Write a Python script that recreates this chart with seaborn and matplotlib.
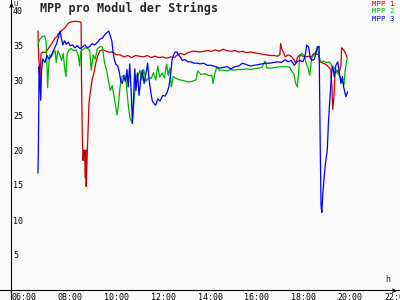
import matplotlib
matplotlib.use("Agg")
import matplotlib.pyplot as plt
from matplotlib.transforms import ScaledTranslation
import seaborn as sns
import pandas as pd

# ---- data (time in minutes since midnight, value in V) ----
mpp1_t = [419, 421, 424, 427, 432, 437, 442, 447, 452, 458, 463, 468, 471, 476, 483, 489, 494, 499,
          505, 515, 527, 530, 531, 533, 535, 537, 539, 541, 542, 543, 545, 546, 548, 550, 553, 558,
          563, 568, 573, 579, 585, 591, 600, 612, 620, 630, 640, 650, 660, 670, 680, 690, 700, 710,
          720, 730, 740, 750, 760, 770, 778, 786, 795, 805, 815, 825, 835, 845, 855, 865, 875, 885,
          895, 905, 915, 925, 935, 945, 955, 965, 975, 985, 995, 1005, 1015, 1025, 1035, 1041, 1043,
          1046, 1050, 1055, 1062, 1070, 1077, 1082, 1087, 1093, 1100, 1108, 1116, 1122, 1128, 1135,
          1141, 1144, 1152, 1160, 1167, 1172, 1175, 1177, 1180, 1183, 1188, 1193, 1198, 1200, 1205,
          1209, 1214]
mpp1_v = [37.0, 33.5, 30.0, 33.8, 34.0, 33.9, 34.2, 34.6, 35.0, 35.5, 36.0, 36.2, 36.6, 36.8, 37.2,
          37.5, 37.9, 38.2, 38.3, 38.4, 38.3, 38.2, 30.0, 22.0, 18.5, 20.0, 19.5, 16.0, 20.0, 14.8,
          18.0, 20.0, 23.0, 26.5, 28.0, 30.0, 31.0, 32.5, 33.5, 34.2, 34.3, 34.2, 34.0, 34.0, 33.6,
          33.6, 33.3, 33.5, 33.2, 33.5, 33.4, 33.3, 33.5, 33.2, 33.4, 33.2, 33.3, 33.1, 33.3, 33.2,
          33.6, 33.8, 33.6, 33.9, 34.1, 34.1, 34.0, 34.1, 34.2, 34.1, 34.3, 34.1, 34.4, 34.2, 34.1,
          34.2, 34.0, 34.1, 33.9, 34.0, 33.9, 33.8, 33.7, 33.6, 33.5, 33.5, 33.4, 33.6, 35.2, 34.4,
          34.0, 33.3, 33.6, 33.4, 32.9, 32.4, 33.3, 33.6, 33.4, 33.3, 33.4, 33.3, 33.8, 33.7, 33.6,
          32.6, 32.4, 32.2, 31.8, 31.5, 29.0, 25.8, 27.5, 31.0, 31.4, 31.0, 32.0, 34.6, 34.3, 33.9,
          33.2]

mpp2_t = [419, 421, 424, 430, 436, 440, 442, 444, 446, 449, 453, 458, 463, 466, 470, 475, 480, 484,
          488, 491, 494, 498, 504, 510, 517, 523, 526, 529, 534, 540, 547, 552, 556, 561, 566, 572,
          580, 585, 590, 595, 600, 605, 610, 615, 619, 622, 625, 630, 635, 640, 645, 648, 652, 656,
          661, 666, 671, 676, 681, 686, 691, 697, 704, 710, 716, 722, 727, 732, 738, 744, 750, 754,
          758, 762, 767, 775, 785, 795, 805, 815, 825, 830, 838, 848, 860, 866, 869, 874, 879, 885,
          895, 905, 915, 925, 935, 945, 955, 965, 975, 985, 995, 1003, 1008, 1020, 1030, 1040, 1050,
          1060, 1067, 1072, 1077, 1082, 1086, 1089, 1093, 1098, 1104, 1108, 1113, 1118, 1123, 1128,
          1133, 1137, 1141, 1146, 1152, 1160, 1167, 1172, 1177, 1183, 1188, 1193, 1198, 1203, 1206,
          1209, 1214]
mpp2_v = [34.8, 35.5, 35.8, 36.2, 36.3, 35.5, 32.0, 28.9, 31.5, 33.6, 33.3, 33.8, 34.2, 32.5, 34.2,
          33.6, 32.8, 33.8, 31.5, 30.5, 33.8, 34.2, 34.5, 34.2, 34.3, 33.5, 32.0, 34.0, 34.3, 34.6,
          34.5, 34.2, 31.4, 33.6, 33.0, 34.5, 34.8, 34.7, 32.5, 31.5, 30.0, 28.5, 29.2, 27.5, 26.2,
          25.0, 26.0, 29.0, 30.5, 30.7, 30.4, 28.3, 26.0, 24.5, 23.8, 27.0, 30.7, 30.5, 31.4, 30.0,
          31.5, 29.8, 30.4, 30.2, 31.0, 30.0, 32.0, 30.4, 31.0, 30.3, 32.3, 30.6, 31.7, 29.0, 30.5,
          30.2, 30.0, 29.9, 29.7, 29.8, 30.0, 31.3, 30.8, 30.9, 30.6, 30.7, 29.5, 31.0, 31.9, 31.4,
          31.4, 31.3, 31.5, 31.4, 31.5, 31.5, 31.6, 31.5, 31.6, 31.7, 31.8, 32.7, 31.7, 31.7, 31.8,
          31.9, 31.9, 31.9, 31.8, 31.2, 30.9, 29.5, 29.0, 31.0, 33.6, 33.8, 33.5, 32.5, 31.8, 30.7,
          33.2, 33.5, 34.0, 34.8, 33.5, 32.6, 32.7, 32.5, 32.6, 32.4, 31.5, 31.8, 31.0, 30.8, 30.2,
          29.6, 29.3, 31.4, 33.1]

mpp3_t = [419, 420, 421, 422, 424, 426, 428, 431, 437, 442, 447, 452, 457, 462, 467, 472, 476, 479,
          483, 487, 492, 497, 502, 508, 514, 520, 527, 533, 540, 546, 552, 558, 565, 572, 578, 585,
          591, 597, 601, 605, 609, 612, 615, 619, 624, 628, 632, 636, 640, 644, 648, 651, 655, 659,
          662, 665, 668, 671, 675, 679, 683, 687, 692, 697, 701, 705, 709, 713, 718, 722, 727, 733,
          740, 746, 751, 756, 760, 764, 768, 772, 776, 780, 785, 790, 797, 805, 812, 820, 828, 836,
          845, 855, 865, 875, 885, 895, 905, 915, 925, 935, 945, 955, 965, 975, 985, 995, 1005, 1015,
          1025, 1035, 1045, 1055, 1062, 1070, 1078, 1085, 1092, 1100, 1106, 1110, 1115, 1119, 1124,
          1130, 1136, 1140, 1142, 1145, 1147, 1149, 1151, 1154, 1158, 1163, 1166, 1170, 1174, 1177,
          1181, 1185, 1190, 1194, 1198, 1202, 1205, 1208, 1211, 1215]
mpp3_v = [16.7, 20.0, 26.0, 31.9, 30.0, 27.1, 31.0, 33.0, 32.5, 33.5, 33.0, 33.3, 34.0, 34.6, 35.2,
          36.2, 37.0, 36.0, 35.0, 35.6, 35.1, 35.4, 34.9, 35.0, 34.6, 34.9, 34.5, 34.7, 35.0, 34.6,
          34.8, 35.2, 35.0, 35.4, 35.8, 36.0, 36.5, 36.8, 37.0, 36.3, 35.6, 34.0, 33.0, 32.3, 32.0,
          31.2, 29.8, 29.5, 30.5, 29.8, 31.5, 29.0, 32.3, 28.0, 23.8, 27.5, 31.6, 28.5, 31.0, 27.8,
          30.0, 31.4, 29.5, 31.0, 32.4, 30.0, 28.3, 27.0, 26.6, 26.4, 27.3, 27.0, 27.8, 27.7, 28.2,
          29.1, 30.7, 33.0, 33.6, 34.0, 34.0, 33.6, 33.3, 32.8, 32.9, 32.6, 32.6, 32.4, 32.4, 32.3,
          32.4, 32.1, 32.1, 31.9, 31.7, 31.8, 31.9, 31.6, 31.9, 32.0, 32.4, 32.2, 32.0, 32.1, 32.2,
          32.3, 32.4, 32.4, 32.5, 32.6, 32.5, 32.9, 32.6, 32.8, 32.1, 32.6, 32.8, 32.6, 33.4, 35.0,
          34.7, 33.2, 32.8, 33.0, 34.3, 34.8, 34.8, 20.0, 12.0, 11.1, 13.3, 15.5, 18.0, 20.0, 24.0,
          27.6, 31.0, 32.0, 30.5, 32.1, 32.6, 31.0, 29.5, 30.5, 29.0, 28.3, 27.6, 28.3]

series_names = ["MPP 1", "MPP 2", "MPP 3"]
series_colors = ["#c80000", "#00b400", "#0000ff"]

x_tick_minutes = [360, 480, 600, 720, 840, 960, 1080, 1200, 1320]
x_tick_labels = ["06:00", "08:00", "10:00", "12:00", "14:00", "16:00", "18:00", "20:00", "22:00"]
y_ticks = [5, 10, 15, 20, 25, 30, 35, 40]

title = "MPP pro Modul der Strings"

# ---- build long-form table ----
frames = []
for name, t, v in zip(series_names, [mpp1_t, mpp2_t, mpp3_t], [mpp1_v, mpp2_v, mpp3_v]):
    frames.append(pd.DataFrame({"minute": t, "value": v, "series": name}))
df = pd.concat(frames, ignore_index=True)

sns.set_style("white")
plt.rcParams["font.family"] = ["DejaVu Sans Mono", "DejaVu Sans"]

BG = "#fafafa"
fig = plt.figure(figsize=(4, 3), dpi=100, facecolor=BG)
ax = fig.add_axes([0, 0, 1, 1], facecolor=BG)

sns.lineplot(data=df, x="minute", y="value", hue="series", hue_order=series_names,
             palette=dict(zip(series_names, series_colors)), estimator=None, sort=False,
             legend=False, linewidth=0.9, ax=ax)

# pixel mapping: 06:00 at x=15px, 2.571 min/px ; value 0 at y=290px, 7 px/V
ax.set_xlim(321.4, 1350)
ax.set_ylim(-10 / 7, 290 / 7)
ax.set_xlabel("")
ax.set_ylabel("")

for s in ["top", "right"]:
    ax.spines[s].set_visible(False)
ax.spines["left"].set_position(("data", 349.7))
ax.spines["bottom"].set_position(("data", 0))
for s in ["left", "bottom"]:
    ax.spines[s].set_color("black")
    ax.spines[s].set_linewidth(0.8)

ax.set_xticks(x_tick_minutes)
ax.set_xticklabels(x_tick_labels)
ax.set_yticks(y_ticks)
ax.set_yticklabels([str(v) for v in y_ticks])

ax.tick_params(axis="x", direction="inout", length=3.6, width=0.8, labelsize=6, pad=0, colors="black")
ax.tick_params(axis="y", direction="inout", length=4.3, width=0.8, labelsize=6, pad=-3.6, colors="black")

shift_x = ScaledTranslation(-4 / 100, 0, fig.dpi_scale_trans)
for lab in ax.get_xticklabels():
    lab.set_horizontalalignment("left")
    lab.set_transform(lab.get_transform() + shift_x)
for lab in ax.get_yticklabels():
    lab.set_horizontalalignment("left")

# axis arrows and unit labels
ax.annotate("", xy=(11.5, 300), xytext=(11.5, 290), xycoords="figure pixels",
            arrowprops=dict(arrowstyle="->", lw=0.8, color="black", mutation_scale=6))
ax.annotate("", xy=(400, 9.3), xytext=(390, 9.3), xycoords="figure pixels",
            arrowprops=dict(arrowstyle="->", lw=0.8, color="black", mutation_scale=6))
fig.text(13 / 400, 1 - 0.5 / 300, "U", fontsize=5, va="top", ha="left")
fig.text(385 / 400, 1 - 284 / 300, "h", fontsize=6, va="bottom", ha="left")

# title and legend texts
fig.text(40 / 400, 1 - 2 / 300, title, fontsize=8.5, fontweight="bold", va="top", ha="left")
for i, (name, col) in enumerate(zip(series_names, series_colors)):
    fig.text(395 / 400, 1 - (1 + 7.3 * i) / 300, name, color=col, fontsize=5.3,
             va="top", ha="right")

fig.savefig("out.png", dpi=100, facecolor=BG)
